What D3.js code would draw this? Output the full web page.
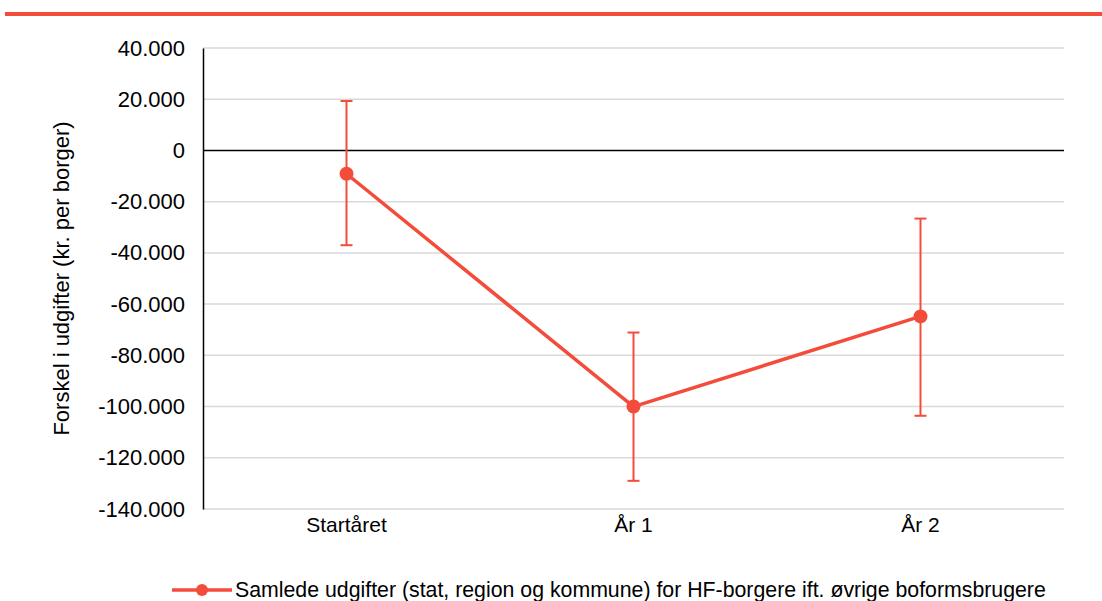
<!DOCTYPE html>
<html>
<head>
<meta charset="utf-8">
<script src="https://cdn.jsdelivr.net/npm/d3@7"></script>
<style>
  body { margin: 0; background: #fff; }
  text { font-family: "Liberation Sans", Arial, sans-serif; fill: #000; }
</style>
</head>
<body>
<div class="chart"></div>
<script>
var categories = ['Startåret', 'År 1', 'År 2'];
var values = [-9100, -100000, -64800];
var upper = [19300, -71100, -26600];
var lower = [-37000, -129000, -103600];
var yTicks = [40000, 20000, 0, -20000, -40000, -60000, -80000, -100000, -120000, -140000];
var seriesName = 'Samlede udgifter (stat, region og kommune) for HF-borgere ift. øvrige boformsbrugere';
var yTitle = 'Forskel i udgifter (kr. per borger)';

var width = 1102, height = 601;
var red = '#f44c3b';

var x = d3.scaleBand()
  .domain(categories)
  .range([203, 1064]);

var y = d3.scaleLinear()
  .domain([-140000, 40000])
  .range([509, 48]);

var fmt = d => d3.format(',')(d).replace(/,/g, '.').replace('−', '-');

var svg = d3.select('.chart').append('svg')
  .attr('width', width)
  .attr('height', height);

// top rule
svg.append('rect')
  .attr('x', 5).attr('y', 12)
  .attr('width', width - 5).attr('height', 4)
  .attr('fill', red);

// gridlines
svg.append('g').selectAll('line')
  .data(yTicks.filter(d => d !== 0))
  .enter().append('line')
    .attr('x1', x.range()[0]).attr('x2', x.range()[1])
    .attr('y1', d => y(d)).attr('y2', d => y(d))
    .attr('stroke', '#d9d9d9')
    .attr('stroke-width', 1.5);

// zero line
svg.append('line')
  .attr('x1', x.range()[0]).attr('x2', x.range()[1])
  .attr('y1', y(0)).attr('y2', y(0))
  .attr('stroke', '#000')
  .attr('stroke-width', 1.5);

// y axis
var yAxis = d3.axisLeft(y)
  .tickValues(yTicks)
  .tickSize(0)
  .tickPadding(18)
  .tickFormat(fmt);

var gY = svg.append('g')
  .attr('transform', `translate(${x.range()[0]}, 0)`)
  .call(yAxis);
gY.select('.domain')
  .attr('stroke', '#000')
  .attr('stroke-width', 1.5);
gY.selectAll('text')
  .attr('font-size', 22)
  .attr('font-family', '"Liberation Sans", Arial, sans-serif')
  .attr('fill', '#000');

// x axis labels
var xAxis = d3.axisBottom(x).tickSize(0).tickPadding(8);
var gX = svg.append('g')
  .attr('transform', `translate(0, ${y(-140000)})`)
  .call(xAxis);
gX.select('.domain').remove();
gX.selectAll('text')
  .attr('font-size', 21)
  .attr('font-family', '"Liberation Sans", Arial, sans-serif')
  .attr('fill', '#000');

// y title
svg.append('text')
  .text(yTitle)
  .attr('font-size', 22)
  .attr('text-anchor', 'middle')
  .attr('transform', `translate(69, ${(y.range()[0] + y.range()[1]) / 2}) rotate(-90)`);

var cx = d => x(d) + x.bandwidth() / 2;
var points = categories.map((c, i) => ({cat: c, v: values[i], hi: upper[i], lo: lower[i]}));

// error bars
var err = svg.append('g').selectAll('g')
  .data(points)
  .enter().append('g')
    .attr('stroke', red)
    .attr('stroke-width', 2);
err.append('line')
  .attr('x1', d => cx(d.cat)).attr('x2', d => cx(d.cat))
  .attr('y1', d => y(d.hi)).attr('y2', d => y(d.lo));
err.append('line')
  .attr('x1', d => cx(d.cat) - 6).attr('x2', d => cx(d.cat) + 6)
  .attr('y1', d => y(d.hi)).attr('y2', d => y(d.hi));
err.append('line')
  .attr('x1', d => cx(d.cat) - 6).attr('x2', d => cx(d.cat) + 6)
  .attr('y1', d => y(d.lo)).attr('y2', d => y(d.lo));

var line = d3.line()
  .x(d => cx(d.cat))
  .y(d => y(d.v));

svg.append('path')
  .attr('d', line(points))
  .attr('fill', 'none')
  .attr('stroke', red)
  .attr('stroke-width', 3.5)
  .attr('stroke-linejoin', 'round');

svg.append('g').selectAll('circle')
  .data(points)
  .enter().append('circle')
    .attr('cx', d => cx(d.cat))
    .attr('cy', d => y(d.v))
    .attr('r', 7)
    .attr('fill', red);

// legend
var lg = svg.append('g').attr('transform', 'translate(172, 590)');
lg.append('line')
  .attr('x1', 0).attr('x2', 60)
  .attr('stroke', red).attr('stroke-width', 3.5);
lg.append('circle')
  .attr('cx', 30).attr('r', 6)
  .attr('fill', red);
lg.append('text')
  .text(seriesName)
  .attr('x', 63)
  .attr('dy', '0.35em')
  .attr('font-size', 21.3);
</script>
</body>
</html>
